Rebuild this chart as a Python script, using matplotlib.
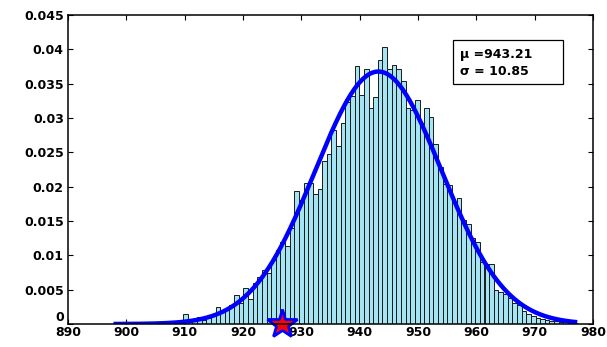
import numpy as np
import matplotlib
matplotlib.use("Agg")
import matplotlib.pyplot as plt
from matplotlib.patches import Rectangle

# Histogram: 100 equal-width bins, normalised to a probability density
bin_left_edge = 897.8
bin_width = 0.795
density = [
    0, 0, 0, 0, 0, 0, 0, 0, 0, 0,
    0, 0, 0, 0.0002, 0.0002, 0.0014, 0.0004, 0.0005, 0.0010, 0.0006,
    0.0009, 0.0014, 0.0025, 0.0018, 0.0021, 0.0027, 0.0042, 0.0030, 0.0053, 0.0037,
    0.0059, 0.0068, 0.0079, 0.0074, 0.0093, 0.0108, 0.0120, 0.0114, 0.0140, 0.0194,
    0.0180, 0.0206, 0.0205, 0.0190, 0.0196, 0.0238, 0.0248, 0.0282, 0.0259, 0.0293,
    0.0324, 0.0332, 0.0376, 0.0333, 0.0371, 0.0314, 0.0331, 0.0384, 0.0403, 0.0371,
    0.0377, 0.0372, 0.0354, 0.0314, 0.0312, 0.0326, 0.0292, 0.0314, 0.0301, 0.0262,
    0.0228, 0.0204, 0.0202, 0.0178, 0.0183, 0.0152, 0.0145, 0.0125, 0.0120, 0.0091,
    0.0087, 0.0087, 0.0050, 0.0047, 0.0044, 0.0038, 0.0031, 0.0027, 0.0019, 0.0015,
    0.0012, 0.0009, 0.0008, 0.0006, 0.0005, 0.0004, 0.0003, 0.0004, 0.0004, 0.0002,
]

# Fitted normal distribution
mu = 943.21
sigma = 10.85

# Highlighted observation
marker_x = 926.7
marker_y = 0.0

x_ticks = [890, 900, 910, 920, 930, 940, 950, 960, 970, 980]
y_ticks = [0, 0.005, 0.01, 0.015, 0.02, 0.025, 0.03, 0.035, 0.04, 0.045]
y_tick_labels = ["0", "0.005", "0.01", "0.015", "0.02", "0.025",
                 "0.03", "0.035", "0.04", "0.045"]

plt.rcParams["font.family"] = ["DejaVu Sans"]
plt.rcParams["font.weight"] = "bold"

fig = plt.figure(figsize=(6.07, 3.47), dpi=100)
ax = fig.add_axes([68 / 607, 23 / 347, 525 / 607, 309 / 347])

n_bins = len(density)
lefts = bin_left_edge + bin_width * np.arange(n_bins)
ax.bar(lefts, density, width=bin_width, align="edge",
       color="#a5e5f3", edgecolor="#1a1a1a", linewidth=0.7, zorder=2)

xs = np.linspace(lefts[0], lefts[-1] + bin_width, 400)
pdf = np.exp(-0.5 * ((xs - mu) / sigma) ** 2) / (sigma * np.sqrt(2 * np.pi))
ax.plot(xs, pdf, color="#0000ff", linewidth=3.2, zorder=3, solid_capstyle="butt")

ax.plot([marker_x], [marker_y], marker="*", markersize=22,
        markerfacecolor="#ff0000", markeredgecolor="#0000ff",
        markeredgewidth=2.0, linestyle="none", clip_on=False, zorder=5)

ax.set_xlim(x_ticks[0], x_ticks[-1])
ax.set_ylim(y_ticks[0], y_ticks[-1])
ax.set_xticks(x_ticks)
ax.set_xticklabels([str(t) for t in x_ticks])
ax.set_yticks(y_ticks)
ax.set_yticklabels(y_tick_labels)

ax.tick_params(axis="both", direction="in", length=3.5, width=0.8,
               labelsize=9, top=True, right=True)
ax.tick_params(axis="x", pad=1.5)
ax.tick_params(axis="y", pad=3)
for lab in ax.get_xticklabels() + ax.get_yticklabels():
    lab.set_fontweight("bold")
ax.get_yticklabels()[0].set_verticalalignment("bottom")

for sp in ax.spines.values():
    sp.set_linewidth(1.1)
    sp.set_color("black")
    sp.set_zorder(6)

# Parameter box
ax.add_patch(Rectangle((0.733, 0.776), 0.209, 0.143, transform=ax.transAxes,
                       facecolor="white", edgecolor="black", linewidth=0.9,
                       zorder=7))
ax.text(0.747, 0.873, "\u03bc =%.2f" % mu, transform=ax.transAxes,
        fontsize=9, fontweight="bold", va="center", ha="left", zorder=8)
ax.text(0.747, 0.816, "\u03c3 = %.2f" % sigma, transform=ax.transAxes,
        fontsize=9, fontweight="bold", va="center", ha="left", zorder=8)

fig.savefig("out.png", dpi=100)
